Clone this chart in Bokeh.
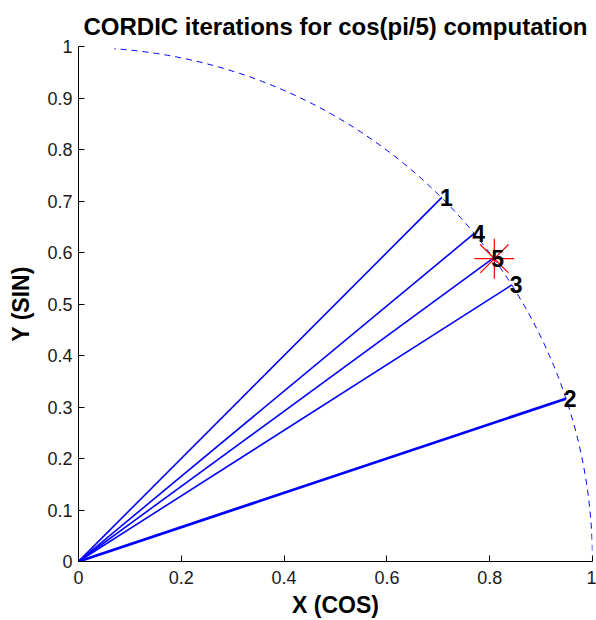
from bokeh.plotting import figure
from bokeh.models import Range1d, FixedTicker, ColumnDataSource
from bokeh.core.properties import value
from bokeh.embed import file_html
from bokeh.resources import INLINE

# ---- data ----
title_text = "CORDIC iterations for cos(pi/5) computation"
x_label = "X (COS)"
y_label = "Y (SIN)"

iter_labels = ["1", "2", "3", "4", "5"]
iter_x = [0.707, 0.948, 0.843, 0.770, 0.807]
iter_y = [0.707, 0.316, 0.537, 0.637, 0.589]

target_x = [0.809]
target_y = [0.588]

circle_center_x = [0]
circle_center_y = [0]
circle_radius = [1]
arc_start_deg = [0]
arc_end_deg = [86]

x_ticks = [0, 0.2, 0.4, 0.6, 0.8, 1]
x_tick_labels = ["0", "0.2", "0.4", "0.6", "0.8", "1"]
y_ticks = [0, 0.1, 0.2, 0.3, 0.4, 0.5, 0.6, 0.7, 0.8, 0.9, 1]
y_tick_labels = ["0", "0.1", "0.2", "0.3", "0.4", "0.5", "0.6", "0.7", "0.8", "0.9", "1"]

# ---- styles ----
seg_widths = [1.6, 2.8, 1.6, 1.6, 1.6]
BLUE = "#0000ff"
FONT = "Liberation Sans"

src = ColumnDataSource(dict(x1=iter_x, y1=iter_y, lab=iter_labels,
                            x0=[0] * len(iter_x), y0=[0] * len(iter_y), w=seg_widths))

p = figure(width=596, height=620, output_backend="svg", toolbar_location=None,
           x_range=Range1d(0, 1), y_range=Range1d(0, 1),
           min_border_left=78, min_border_right=4, min_border_top=46, min_border_bottom=59)

p.title.text = title_text
p.title.text_font = FONT
p.title.text_font_size = "24px"
p.title.text_font_style = "bold"
p.title.align = "center"
p.title.standoff = 14
p.title.text_color = "black"

p.outline_line_color = None
p.grid.visible = False
p.background_fill_color = "white"
p.border_fill_color = "white"

# dashed unit-circle arc
p.arc(x=circle_center_x, y=circle_center_y, radius=circle_radius,
      start_angle=arc_start_deg, end_angle=arc_end_deg,
      start_angle_units="deg", end_angle_units="deg", direction="anticlock",
      line_color=BLUE, line_width=1, line_dash="6 5")

# iteration vectors
p.segment(x0="x0", y0="y0", x1="x1", y1="y1", source=src,
          line_color=BLUE, line_width="w")

# target marker
p.scatter(x=target_x, y=target_y, marker="asterisk", size=40,
          line_color="#ff0000", line_width=1.2)

# iteration labels
p.text(x="x1", y="y1", text="lab", source=src, x_offset=-2,
       text_font=value(FONT), text_font_size="23px", text_font_style="bold",
       text_align="left", text_baseline="middle", text_color="black")

for ax, ticks, labels in ((p.xaxis[0], x_ticks, x_tick_labels),
                          (p.yaxis[0], y_ticks, y_tick_labels)):
    ax.ticker = FixedTicker(ticks=ticks)
    ax.major_label_overrides = {t: l for t, l in zip(ticks, labels)}
    ax.minor_tick_line_color = None
    ax.major_tick_in = 6
    ax.major_tick_out = 0
    ax.axis_line_color = "black"
    ax.major_tick_line_color = "black"
    ax.major_label_text_font = FONT
    ax.major_label_text_font_size = "18px"
    ax.major_label_text_color = "#1a1a1a"
    ax.axis_label_text_font = FONT
    ax.axis_label_text_font_size = "23px"
    ax.axis_label_text_font_style = "bold"
    ax.axis_label_text_color = "black"

p.xaxis.axis_label = x_label
p.yaxis.axis_label = y_label
p.xaxis.major_label_standoff = 9
p.xaxis.axis_label_standoff = 5
p.yaxis.major_label_standoff = 6
p.yaxis.axis_label_standoff = 10

open("out.html", "w").write(file_html(p, INLINE))
